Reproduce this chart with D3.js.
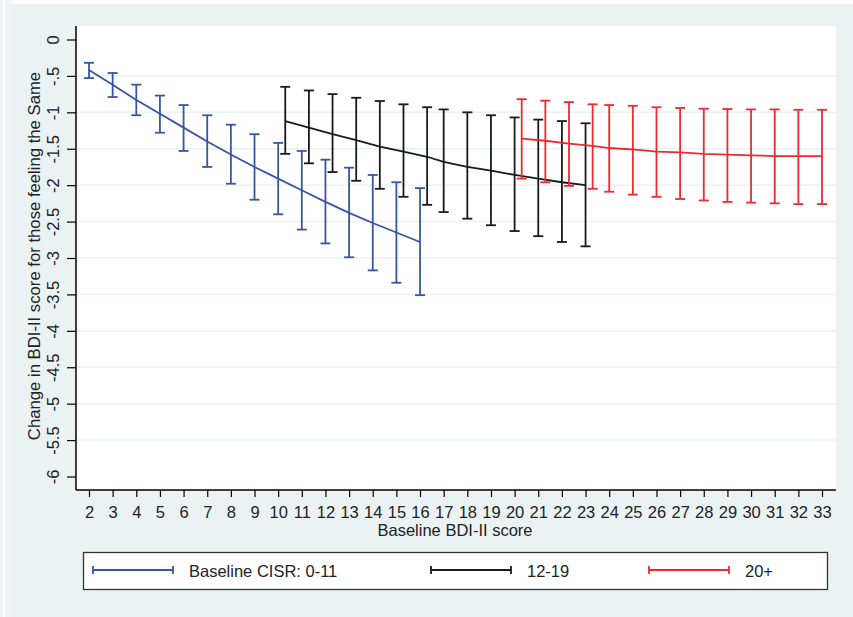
<!DOCTYPE html>
<html>
<head>
<meta charset="utf-8">
<script src="https://cdn.jsdelivr.net/npm/d3@7"></script>
<style>
  body { margin: 0; background: #fff; }
  svg, svg text { font-family: "Liberation Sans", Arial, sans-serif; }
  svg { display: block; }
</style>
</head>
<body>
<div id="chart"></div>
<script>
// Data
const yTicks = [0, -0.5, -1, -1.5, -2, -2.5, -3, -3.5, -4, -4.5, -5, -5.5, -6];
const xTicks = d3.range(2, 34);

// Baseline CISR 0-11
const blueX = [2, 3, 4, 5, 6, 7, 8, 9, 10, 11, 12, 13, 14, 15, 16];
const blueMid = [-0.42, -0.62, -0.83, -1.02, -1.21, -1.40, -1.58, -1.75, -1.91, -2.07, -2.23, -2.38, -2.52, -2.65, -2.78];
const blueHi = [-0.32, -0.46, -0.62, -0.77, -0.90, -1.04, -1.17, -1.30, -1.42, -1.53, -1.65, -1.76, -1.86, -1.96, -2.04];
const blueLo = [-0.53, -0.79, -1.04, -1.28, -1.53, -1.75, -1.98, -2.20, -2.40, -2.61, -2.80, -2.99, -3.17, -3.34, -3.51];

// 12-19 (first points shifted right in the picture)
const blackX = [10.3, 11.3, 12.3, 13.3, 14.3, 15.3, 16.3, 17, 18, 19, 20, 21, 22, 23];
const blackMid = [-1.12, -1.21, -1.30, -1.38, -1.47, -1.54, -1.61, -1.68, -1.75, -1.80, -1.86, -1.91, -1.96, -2.00];
const blackHi = [-0.65, -0.70, -0.75, -0.80, -0.845, -0.89, -0.93, -0.96, -1.00, -1.04, -1.07, -1.10, -1.12, -1.15];
const blackLo = [-1.57, -1.70, -1.82, -1.94, -2.05, -2.16, -2.27, -2.37, -2.46, -2.55, -2.63, -2.70, -2.78, -2.84];

// 20+
const redX = [20.3, 21.3, 22.3, 23.3, 24, 25, 26, 27, 28, 29, 30, 31, 32, 33];
const redMid = [-1.36, -1.39, -1.43, -1.46, -1.49, -1.51, -1.54, -1.55, -1.57, -1.58, -1.59, -1.60, -1.60, -1.60];
const redHi = [-0.82, -0.84, -0.86, -0.89, -0.90, -0.91, -0.93, -0.94, -0.95, -0.955, -0.96, -0.96, -0.965, -0.965];
const redLo = [-1.91, -1.96, -2.01, -2.05, -2.09, -2.13, -2.16, -2.19, -2.21, -2.23, -2.24, -2.25, -2.26, -2.26];

const legendLabels = ['Baseline CISR: 0-11', '12-19', '20+'];
const colors = ['#3a54a4', '#1a1a1a', '#ee2a2e'];

const W = 853, H = 617;
const FONT = '"Liberation Sans", Arial, sans-serif';
const svg = d3.select('#chart').append('svg')
  .attr('width', W)
  .attr('height', H);

// Graph region background
svg.append('rect').attr('x', 0).attr('y', 0).attr('width', 12).attr('height', H).attr('fill', '#eef4f5');
svg.append('rect').attr('x', 3).attr('y', 0).attr('width', 2).attr('height', H).attr('fill', '#fff');
svg.append('rect').attr('x', 12).attr('y', 4).attr('width', W - 12).attr('height', H - 4).attr('fill', '#eaf2f3');

const plot = { left: 76, right: 836, top: 26, bottom: 490 };
svg.append('rect')
  .attr('x', plot.left).attr('y', plot.top)
  .attr('width', plot.right - plot.left).attr('height', plot.bottom - plot.top)
  .attr('fill', '#fff');

const x = d3.scaleLinear().domain([2, 33]).range([89, 822]);
const y = d3.scaleLinear().domain([0, -6]).range([39.5, 476.5]);

// Stata style labels: -.5, -1.5 ...
const fmt = d => d === 0 ? '0' : String(d).replace('0.', '.');

// Gridlines
svg.append('g')
  .selectAll('line')
  .data(yTicks.filter(d => d !== 0 && d !== -6))
  .enter().append('line')
  .attr('x1', plot.left).attr('x2', plot.right)
  .attr('y1', d => y(d)).attr('y2', d => y(d))
  .attr('stroke', '#eaf2f3')
  .attr('stroke-width', 1.5);

// Y axis
const yAxis = svg.append('g')
  .attr('transform', `translate(${plot.left},0)`)
  .call(d3.axisLeft(y).tickValues(yTicks).tickSize(9).tickFormat(fmt))
  .attr('font-family', FONT)
  .attr('font-size', 16.5);
yAxis.select('.domain').attr('d', `M0,${plot.top}V${plot.bottom}`).attr('stroke', '#000').attr('stroke-width', 1.5);
yAxis.selectAll('.tick line').attr('stroke', '#000').attr('stroke-width', 1.2);
yAxis.selectAll('.tick text')
  .attr('fill', '#222')
  .attr('text-anchor', 'middle')
  .attr('x', null)
  .attr('dy', null)
  .attr('transform', 'translate(-17.5,0) rotate(-90)');

// X axis
const xAxis = svg.append('g')
  .attr('transform', `translate(0,${plot.bottom})`)
  .call(d3.axisBottom(x).tickValues(xTicks).tickSize(7).tickPadding(9))
  .attr('font-family', FONT)
  .attr('font-size', 16.5);
xAxis.select('.domain').attr('d', `M${plot.left},0H${plot.right}`).attr('stroke', '#000').attr('stroke-width', 1.5);
xAxis.selectAll('.tick line').attr('stroke', '#000').attr('stroke-width', 1.2);
xAxis.selectAll('.tick text').attr('fill', '#222');

// Axis titles
svg.append('text')
  .attr('x', 455).attr('y', 536)
  .attr('text-anchor', 'middle')
  .attr('font-size', 16.5).attr('fill', '#222')
  .text('Baseline BDI-II score');

svg.append('text')
  .attr('transform', 'translate(40,256) rotate(-90)')
  .attr('text-anchor', 'middle')
  .attr('font-size', 16.7).attr('fill', '#222')
  .text('Change in BDI-II score for those feeling the Same');

// Series
const series = [
  { xs: blueX, mid: blueMid, hi: blueHi, lo: blueLo, color: colors[0] },
  { xs: blackX, mid: blackMid, hi: blackHi, lo: blackLo, color: colors[1] },
  { xs: redX, mid: redMid, hi: redHi, lo: redLo, color: colors[2] }
];

const line = d3.line().x(d => x(d.x)).y(d => y(d.m));
const cap = 5;

series.forEach(s => {
  const pts = s.xs.map((xv, i) => ({ x: xv, m: s.mid[i], hi: s.hi[i], lo: s.lo[i] }));
  const g = svg.append('g').attr('stroke', s.color).attr('fill', 'none').attr('stroke-width', 1.8);

  g.selectAll('line.bar').data(pts).enter().append('line')
    .attr('x1', d => x(d.x)).attr('x2', d => x(d.x))
    .attr('y1', d => y(d.hi)).attr('y2', d => y(d.lo));
  g.selectAll('line.capt').data(pts).enter().append('line')
    .attr('x1', d => x(d.x) - cap).attr('x2', d => x(d.x) + cap)
    .attr('y1', d => y(d.hi)).attr('y2', d => y(d.hi));
  g.selectAll('line.capb').data(pts).enter().append('line')
    .attr('x1', d => x(d.x) - cap).attr('x2', d => x(d.x) + cap)
    .attr('y1', d => y(d.lo)).attr('y2', d => y(d.lo));

  g.append('path').datum(pts).attr('d', line).attr('stroke-width', 1.8);
});

// Legend
svg.append('rect')
  .attr('x', 83.5).attr('y', 552.5)
  .attr('width', 744).attr('height', 37)
  .attr('fill', '#fff')
  .attr('stroke', '#333')
  .attr('stroke-width', 1.3);

const legendPos = [93, 431, 649];
legendLabels.forEach((lab, i) => {
  const lx = legendPos[i], ly = 570;
  const g = svg.append('g').attr('stroke', colors[i]).attr('stroke-width', 1.8);
  g.append('line').attr('x1', lx).attr('x2', lx + 80).attr('y1', ly).attr('y2', ly);
  g.append('line').attr('x1', lx).attr('x2', lx).attr('y1', ly - 4).attr('y2', ly + 4);
  g.append('line').attr('x1', lx + 80).attr('x2', lx + 80).attr('y1', ly - 4).attr('y2', ly + 4);
  svg.append('text')
    .attr('x', lx + 96).attr('y', 576.5)
    .attr('font-size', 16.5).attr('fill', '#222')
    .text(lab);
});
</script>
</body>
</html>
